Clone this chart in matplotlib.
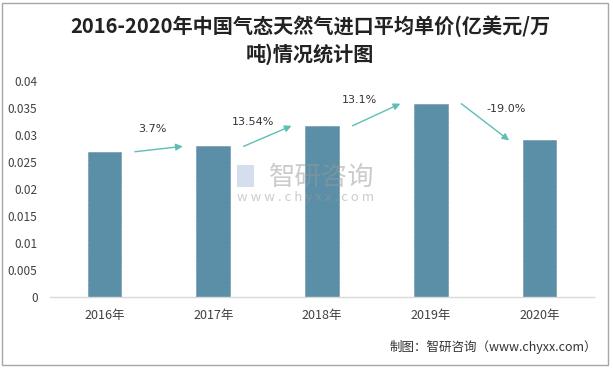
import matplotlib
matplotlib.use("Agg")
import matplotlib.pyplot as plt
from matplotlib.patches import Rectangle

plt.rcParams['font.family'] = ['Noto Sans CJK SC', 'DejaVu Sans']

years = ["2016年", "2017年", "2018年", "2019年", "2020年"]
prices = [0.0269, 0.0279, 0.0317, 0.0358, 0.0290]
growth_labels = ["3.7%", "13.54%", "13.1%", "-19.0%"]
yticks = [0, 0.005, 0.01, 0.015, 0.02, 0.025, 0.03, 0.035, 0.04]
ytick_labels = ["0", "0.005", "0.01", "0.015", "0.02", "0.025", "0.03", "0.035", "0.04"]

title = "2016-2020年中国气态天然气进口平均单价(亿美元/万\n吨)情况统计图"
source = "制图：智研咨询（www.chyxx.com）"

bar_color = "#5B8FA7"
arrow_color = "#5CBFB6"
text_color = "#404040"

fig = plt.figure(figsize=(6.13, 3.69), dpi=100)
ax = fig.add_axes([50/613, 1-297/369, 544/613, 216/369])

x = list(range(len(years)))
ax.bar(x, prices, width=0.31, color=bar_color, edgecolor="#4a7a92", linewidth=0.4, linestyle=(0, (2, 1)), zorder=2)

ax.set_xlim(-0.5, len(years)-0.5)
ax.set_ylim(0, 0.04)
ax.set_yticks(yticks)
ax.set_yticklabels(ytick_labels, fontsize=8.5, color=text_color)
ax.set_xticks(x)
ax.set_xticklabels(years, fontsize=9, color=text_color)
ax.tick_params(axis='both', length=0)
ax.tick_params(axis='x', pad=9)
ax.tick_params(axis='y', pad=9)
for s in ["top", "right", "left"]:
    ax.spines[s].set_visible(False)
ax.spines["bottom"].set_color("#d9d9d9")
ax.spines["bottom"].set_linewidth(1.0)

# growth arrows and labels
label_dx = [0.44, 0.37, 0.34, 0.69]
label_dy = [0.0038, 0.0026, 0.0027, 0.0024]
for i, lab in enumerate(growth_labels):
    y0 = prices[i]
    y1 = prices[i+1]
    ax.annotate("", xy=(i+0.72, y1), xytext=(i+0.28, y0),
                arrowprops=dict(arrowstyle="-|>", color=arrow_color, lw=1.0,
                                mutation_scale=10, shrinkA=0, shrinkB=0), zorder=3)
    ax.text(i+label_dx[i], (y0+y1)/2 + label_dy[i], lab, ha="center", va="center",
            fontsize=8, color="#333333", family=['DejaVu Sans'])

# watermark
fig.text(322/613, 1-177/369, "智研咨询", ha="center", va="center", fontsize=19, color="#999999", alpha=0.5)
fig.text(306/613, 1-198/369, "w w w . c h y x x . c o m", ha="center", va="center", fontsize=9.5, color="#999999", alpha=0.5)
fig.patches.append(Rectangle((237/613, 1-187/369), 17/613, 22/369, transform=fig.transFigure,
                             facecolor="#b8c8e0", edgecolor="none", alpha=0.6))

# title
fig.text(310/613, 1-40/369, title, ha="center", va="center", fontsize=14.5, color="#222222",
         fontweight="bold", linespacing=1.35)

# source
fig.text(597/613, 1-347/369, source, ha="right", va="center", fontsize=9.0, color="#333333")

# border
fig.patches.append(Rectangle((2/613, 4/369), 606/613, 362/369, transform=fig.transFigure,
                             facecolor="none", edgecolor="#a6a6a6", linewidth=1.0))

fig.savefig("out.png", dpi=100)
